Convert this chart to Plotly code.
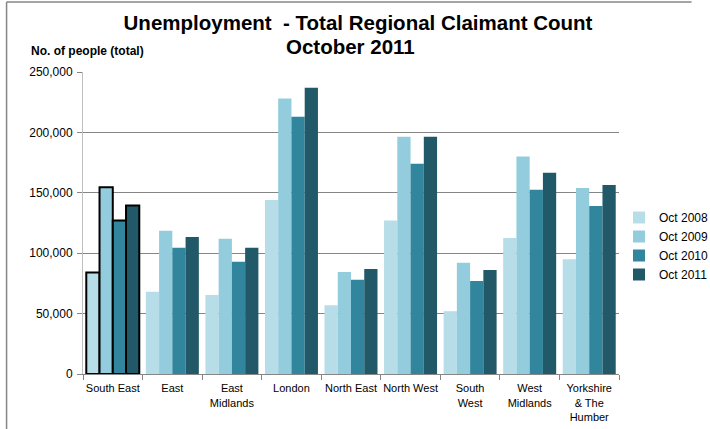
import plotly.graph_objects as go

regions = ["South East", "East", "East Midlands", "London", "North East",
           "North West", "South West", "West Midlands", "Yorkshire & The Humber"]
region_labels = ["South East", "East", "East<br>Midlands", "London", "North East",
                 "North West", "South<br>West", "West<br>Midlands", "Yorkshire<br>& The<br>Humber"]

oct_2008 = [84000, 68000, 65500, 144000, 57000, 127000, 52000, 112500, 95000]
oct_2009 = [154500, 118500, 112000, 228000, 84500, 196500, 92000, 180000, 154000]
oct_2010 = [127000, 104500, 93000, 213000, 78000, 174000, 77000, 152500, 139000]
oct_2011 = [139500, 113500, 104500, 237000, 87000, 196500, 86000, 166500, 156500]

series_names = ["Oct 2008", "Oct 2009", "Oct 2010", "Oct 2011"]
series_values = [oct_2008, oct_2009, oct_2010, oct_2011]
colors = ["#B7DEE8", "#93CDDD", "#31859C", "#215968"]
highlight = "South East"

y_ticks = [0, 50000, 100000, 150000, 200000, 250000]

FONT = "Arial, Liberation Sans, sans-serif"

fig = go.Figure()
line_widths = [2 if r == highlight else 0 for r in regions]
for name, vals, col in zip(series_names, series_values, colors):
    fig.add_trace(go.Bar(
        x=regions, y=vals, name=name, offsetgroup=name, legendgroup=name,
        showlegend=False,
        marker=dict(color=col, line=dict(color="black", width=line_widths)),
        hovertemplate="%{x}<br>" + name + ": %{y:,}<extra></extra>",
    ))
    # legend entry without the highlight outline
    fig.add_trace(go.Bar(
        x=[regions[0]], y=[None], name=name, offsetgroup=name, legendgroup=name,
        showlegend=True, marker=dict(color=col, line=dict(width=0)),
        hoverinfo="skip",
    ))

# plot area pixel geometry
L, R, T, B = 83, 637, 72, 374
W, H = 710, 429
pw, ph = R - L, B - T

def px(x):
    return (x - L) / pw

def py(y):
    return (B - y) / ph

fig.update_layout(
    width=W, height=H, autosize=False,
    margin=dict(l=L, r=W - R, t=T, b=H - B, pad=0),
    paper_bgcolor="white", plot_bgcolor="white",
    font=dict(family=FONT, color="black"),
    barmode="group", bargap=0.11, bargroupgap=0,
    title=dict(
        text="<b>Unemployment  - Total Regional Claimant Count</b>",
        font=dict(family=FONT, size=20.5, color="black"),
        x=358 / W, xref="container", xanchor="center",
        y=1 - 23 / H, yref="container", yanchor="middle",
        automargin=False,
    ),
    xaxis=dict(
        type="category", categoryorder="array", categoryarray=regions,
        tickvals=regions, ticktext=region_labels, tickangle=0, automargin=False,
        ticks="outside", tickson="boundaries", ticklen=5, tickcolor="#868686",
        showline=True, linecolor="#868686", linewidth=1,
        showgrid=False, tickfont=dict(family=FONT, size=11, color="black"),
        ticklabelstandoff=4,
    ),
    yaxis=dict(
        range=[0, 250000], tickvals=y_ticks, tickformat=",", automargin=False,
        showgrid=True, gridcolor="#868686", gridwidth=1,
        ticks="outside", ticklen=5, tickcolor="#868686",
        showline=True, linecolor="#BFBFBF", linewidth=1,
        zeroline=False, tickfont=dict(family=FONT, size=12, color="black"),
        ticklabelstandoff=2,
    ),
    legend=dict(
        xref="container", yref="container",
        x=619 / W, xanchor="left", y=1 - 203 / H, yanchor="top",
        font=dict(family=FONT, size=12, color="black"),
        bgcolor="rgba(0,0,0,0)", tracegroupgap=3, traceorder="normal",
        itemwidth=30,
    ),
    annotations=[
        dict(text="<b>October 2011</b>", xref="paper", yref="paper",
             x=px(359), y=py(46), xanchor="center", yanchor="middle",
             showarrow=False, font=dict(family=FONT, size=20.5, color="black")),
        dict(text="<b>No. of people (total)</b>", xref="paper", yref="paper",
             x=px(27), y=py(51), xanchor="left", yanchor="middle", showarrow=False,
             font=dict(family=FONT, size=12, color="black")),
    ],
    shapes=[
        dict(type="line", xref="paper", yref="paper", x0=px(4), x1=px(712),
             y0=py(2), y1=py(2), line=dict(color="#868686", width=1.5)),
        dict(type="line", xref="paper", yref="paper", x0=px(4), x1=px(4),
             y0=py(2), y1=py(431), line=dict(color="#868686", width=1.5)),
    ],
)

fig.write_html("out.html", config={"displayModeBar": False},
               post_script="document.body.style.margin='0px';")
